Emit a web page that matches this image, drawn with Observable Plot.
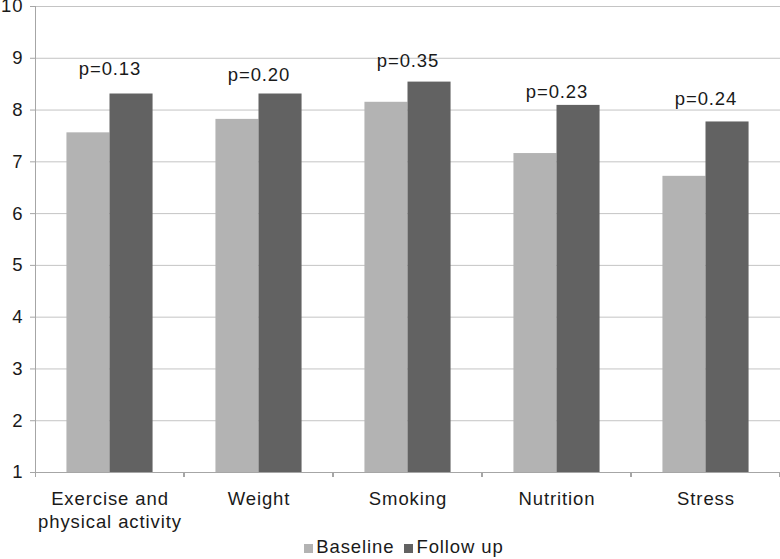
<!DOCTYPE html>
<html>
<head>
<meta charset="utf-8">
<script src="https://cdn.jsdelivr.net/npm/d3@7"></script>
<script src="https://cdn.jsdelivr.net/npm/@observablehq/plot@0.6"></script>
<style>
  html, body { margin: 0; padding: 0; background: #fff; }
  body { width: 780px; height: 559px; overflow: hidden; font-family: "Liberation Sans", Arial, Helvetica, sans-serif; }
  #chart svg text { letter-spacing: 0.9px; }
  #legend { display: flex; justify-content: center; padding-left: 38px; padding-top: 4px; font-size: 18.5px; letter-spacing: 0.9px; color: #1a1a1a; line-height: 21px; }
  #legend .item { display: flex; align-items: baseline; margin: 0 10px 0 0; }
  #legend .sw { display: inline-block; width: 9px; height: 9px; margin-right: 3px; }
</style>
</head>
<body>
<div id="chart"></div>
<div id="legend"></div>
<script>
const categories = ["Exercise and\nphysical activity", "Weight", "Smoking", "Nutrition", "Stress"];
const series = ["Baseline", "Follow up"];
const baseline = [7.56, 7.82, 8.15, 7.16, 6.72];
const followUp = [8.31, 8.31, 8.54, 8.09, 7.77];
const pLabels = ["p=0.13", "p=0.20", "p=0.35", "p=0.23", "p=0.24"];
const pLabelY = [8.67, 8.56, 8.84, 8.23, 8.09];
const yTicks = [1, 2, 3, 4, 5, 6, 7, 8, 9, 10];
const colors = ["#b3b3b3", "#626262"];

const bars = [];
categories.forEach((c, i) => {
  bars.push({category: c, series: series[0], value: baseline[i]});
  bars.push({category: c, series: series[1], value: followUp[i]});
});
const pData = categories.map((c, i) => ({category: c, label: pLabels[i], y: pLabelY[i]}));

const axisGray = "#a6a6a6";
const gridGray = "#c4c4c4";

// category boundary ticks below the axis (drawn in each facet at its edges)
function boundaryTicks(index, scales, values, dims) {
  const g = d3.create("svg:g").attr("stroke", axisGray);
  const y0 = dims.height - dims.marginBottom;
  for (const x of [dims.marginLeft, dims.width - dims.marginRight - 1]) {
    g.append("line").attr("x1", x + 0.5).attr("x2", x + 0.5).attr("y1", y0).attr("y2", y0 + 5);
  }
  return g.node();
}

const chart = Plot.plot({
  width: 780,
  height: 532,
  marginTop: 6,
  marginBottom: 60,
  marginLeft: 35,
  marginRight: 0,
  style: {fontFamily: "'Liberation Sans', Arial, Helvetica, sans-serif", fontSize: "18.5px", color: "#1a1a1a", background: "#fff"},
  fx: {domain: categories, padding: 0, round: false, label: null},
  x: {domain: series, paddingInner: 0, paddingOuter: 0.73, round: false, axis: null},
  y: {domain: [1, 10], label: null},
  color: {domain: series, range: colors},
  marks: [
    Plot.gridY(yTicks, {stroke: gridGray, strokeOpacity: 1}),
    Plot.axisY({ticks: yTicks, tickSize: 5, tickPadding: 7, stroke: axisGray, fontSize: 18.5, label: null, tickFormat: d => String(d)}),
    Plot.frame({anchor: "left", facetAnchor: "left", stroke: axisGray}),
    Plot.barY(bars, {fx: "category", x: "series", y1: 1, y2: "value", fill: "series"}),
    Plot.ruleY([1], {stroke: axisGray}),
    boundaryTicks,
    Plot.text(pData, {fx: "category", y: "y", text: "label", lineAnchor: "bottom", fontSize: 18.5, fill: "#1a1a1a"}),
    Plot.axisFx({anchor: "bottom", tickSize: 0, tickPadding: 16, lineHeight: 1.25, fontSize: 18.5, label: null})
  ]
});
document.getElementById("chart").appendChild(chart);

const legend = d3.select("#legend");
series.forEach((s, i) => {
  const it = legend.append("span").attr("class", "item");
  it.append("span").attr("class", "sw").style("background", colors[i]);
  it.append("span").text(s);
});
</script>
</body>
</html>
